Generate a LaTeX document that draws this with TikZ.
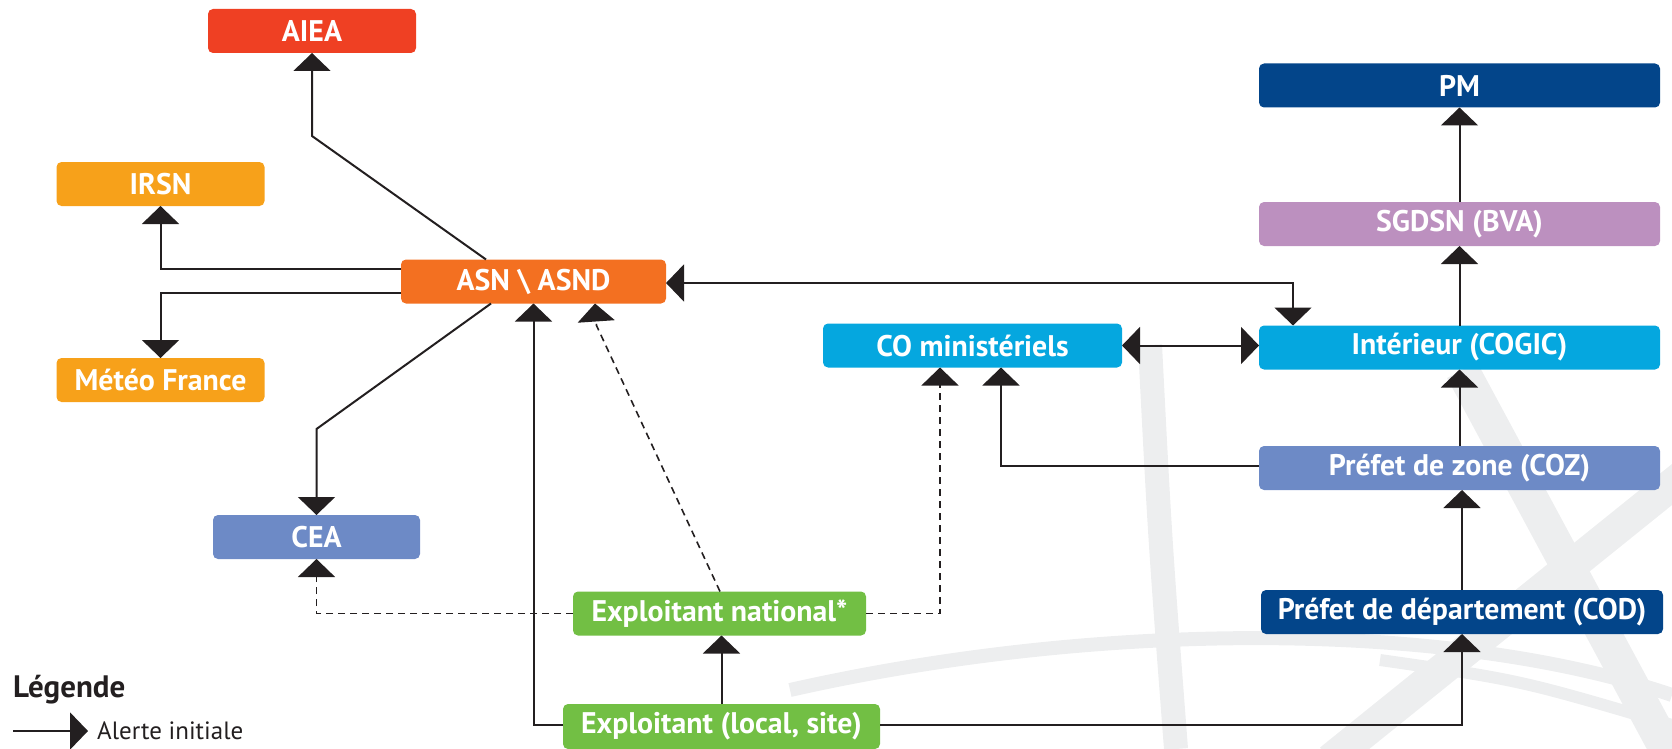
\documentclass[tikz,border=0pt]{standalone}
\usepackage{fontspec}
\setmainfont{PT Sans}
\usepackage{tikz}
\usetikzlibrary{arrows.meta,positioning,calc}

\definecolor{ink}{HTML}{231F20}
\definecolor{cRed}{HTML}{EF4023}
\definecolor{cOrange}{HTML}{F37021}
\definecolor{cAmber}{HTML}{F7A11A}
\definecolor{cSlate}{HTML}{6D8AC6}
\definecolor{cGreen}{HTML}{72BF44}
\definecolor{cCyan}{HTML}{05A7DF}
\definecolor{cNavy}{HTML}{03458A}
\definecolor{cLilac}{HTML}{BC90BF}
\definecolor{wm}{HTML}{EDEEEF}

\begin{document}
\begin{tikzpicture}[
  x=1pt, y=-1pt,
  arr/.style={-{Triangle[width=37pt,length=18pt]}, line width=2pt, draw=ink},
  biarr/.style={{Triangle[width=37pt,length=18pt]}-{Triangle[width=37pt,length=18pt]},
                line width=2pt, draw=ink},
  darr/.style={arr, dash pattern=on 7pt off 5pt, line width=1.6pt},
  box/.style={rounded corners=5pt, text=white, inner sep=0pt, outer sep=0pt,
    minimum height=44pt, align=center,
    font=\fontsize{29.8}{34}\selectfont\bfseries},
  wmark/.style={line width=24pt, draw=wm, line cap=butt},
]
\useasboundingbox (0,0) rectangle (1672,749);

% ── faint watermark, lower right ────────────────────────────────────────────
\draw[wmark] (1150,345) .. controls (1160,540) .. (1176,749);
\draw[wmark, line width=34pt] (1462,370) -- (1672,760);
\draw[wmark, line width=32pt] (1690,470) -- (1330,760);
\draw[wmark, line width=14pt] (790,690) .. controls (1100,620) and (1450,620) .. (1672,695);
\draw[wmark, line width=12pt] (1380,660) .. controls (1520,680) .. (1672,725);

% ── left: ASN and its partners ──────────────────────────────────────────────
\node[box, fill=cRed,    minimum width=208pt] (aiea)  at (312,31)    {AIEA};
\node[box, fill=cAmber,  minimum width=208pt] (irsn)  at (160.5,184) {IRSN};
\node[box, fill=cAmber,  minimum width=208pt] (meteo) at (160.5,380) {Météo France};
\node[box, fill=cOrange, minimum width=265pt] (asn)   at (533.5,281.5) {ASN \textbackslash\ ASND};
\node[box, fill=cSlate,  minimum width=207pt] (cea)   at (316.5,537) {CEA};

% ── bottom: operators ───────────────────────────────────────────────────────
\node[box, fill=cGreen, minimum width=293pt] (expnat) at (719.5,613.5) {Exploitant national*};
\node[box, fill=cGreen, minimum width=317pt, minimum height=45pt] (exploc) at (721.5,726.5)
  {Exploitant (local, site)};

% ── right: state chain ──────────────────────────────────────────────────────
\node[box, fill=cCyan,  minimum width=299pt] (comin)     at (972.5,345.5) {CO ministériels};
\node[box, fill=cNavy,  minimum width=401pt] (pm)        at (1459.5,85.5) {PM};
\node[box, fill=cLilac, minimum width=401pt] (sgdsn)     at (1459.5,224)  {SGDSN (BVA)};
\node[box, fill=cCyan,  minimum width=401pt] (interieur) at (1459.5,347.5) {Intérieur (COGIC)};
\node[box, fill=cSlate, minimum width=401pt] (coz)       at (1459.5,468)  {Préfet de zone (COZ)};
\node[box, fill=cNavy,  minimum width=402pt] (cod)       at (1462,612)    {Préfet de département (COD)};

% ── legend ──────────────────────────────────────────────────────────────────
\node[anchor=west, inner sep=0pt, text=ink, font=\fontsize{31}{34}\selectfont\bfseries]
  (legende) at (13,690) {Légende};
\node[anchor=west, inner sep=0pt, text=ink, font=\fontsize{25}{30}\selectfont]
  (alerte) at (97,731) {Alerte initiale};
\coordinate (legstart) at (13,731);
\draw[arr] (legstart) -- ([xshift=-9pt]alerte.west);

% ── arrows ──────────────────────────────────────────────────────────────────
% from ASN outwards
\draw[arr] ([xshift=-47.5pt]asn.north) -- ([yshift=-83pt]aiea.south) -- (aiea.south);
\draw[arr] ([yshift=12.5pt]asn.west) -| (irsn.south);
\draw[arr] ([yshift=-11.5pt]asn.west) -| (meteo.north);
\draw[arr] ([xshift=-42.5pt]asn.south) -- ([yshift=86pt]cea.north) -- (cea.north);
\draw[biarr] ([yshift=-1.5pt]asn.east) -| ([xshift=-166.5pt]interieur.north);

% operators (dashed from the national one)
\draw[darr] (expnat.west) -| (cea.south);
\draw[darr] ([xshift=0.5pt]expnat.north) -- ([xshift=63pt,yshift=-22pt]asn.south)
  -- ([xshift=61.5pt]asn.south);
\draw[darr] (expnat.east) -| ([xshift=-32.5pt]comin.south);
\draw[arr] (exploc.north) -- (exploc.north |- expnat.south);
\draw[arr] ([yshift=1.5pt]exploc.west) -| (asn.south);
\draw[arr] ([yshift=1.5pt]exploc.east) -| (cod.south);

% right column upwards
\draw[arr] (cod.north) -- (cod.north |- coz.south);
\draw[arr] (coz.north) -- (interieur.south);
\draw[arr] (interieur.north) -- (sgdsn.south);
\draw[arr] (sgdsn.north) -- (pm.south);
\draw[arr] ([yshift=2pt]coz.west) -| ([xshift=28.5pt]comin.south);
\draw[biarr] (comin.east) -- (comin.east -| interieur.west);
\end{tikzpicture}
\end{document}
